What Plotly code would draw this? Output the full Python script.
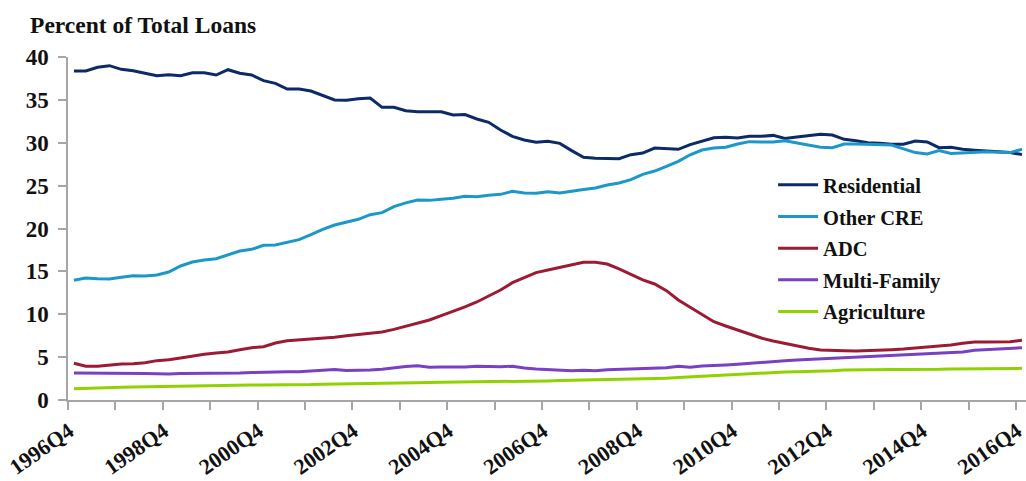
import plotly.graph_objects as go

# Quarterly categories 1996Q4 .. 2016Q4
quarters = [f"{1996 + (q + 3) // 4}Q{(q + 3) % 4 + 1}" for q in range(81)]
tick_labels = ["1996Q4", "1998Q4", "2000Q4", "2002Q4", "2004Q4", "2006Q4",
               "2008Q4", "2010Q4", "2012Q4", "2014Q4", "2016Q4"]

residential = [38.37, 38.37, 38.8, 38.99, 38.56, 38.4, 38.1, 37.82, 37.94, 37.82,
               38.17, 38.17, 37.9, 38.52, 38.1, 37.9, 37.24, 36.93, 36.27, 36.27,
               36.03, 35.53, 34.99, 34.95, 35.14, 35.22, 34.13, 34.13, 33.74, 33.62,
               33.62, 33.62, 33.24, 33.28, 32.77, 32.38, 31.49, 30.75, 30.33, 30.05,
               30.17, 29.93, 29.08, 28.3, 28.18, 28.14, 28.14, 28.61, 28.8, 29.38,
               29.27, 29.23, 29.78, 30.2, 30.59, 30.63, 30.55, 30.75, 30.75, 30.86,
               30.51, 30.67, 30.86, 30.98, 30.9, 30.4, 30.24, 30.01, 29.93, 29.82,
               29.82, 30.2, 30.09, 29.43, 29.47, 29.24, 29.12, 29.04, 28.92, 28.85,
               28.62]
other_cre = [13.96, 14.23, 14.15, 14.11, 14.31, 14.5, 14.46, 14.58, 14.93, 15.63,
             16.09, 16.33, 16.48, 16.91, 17.38, 17.57, 18.04, 18.08, 18.35, 18.7,
             19.28, 19.9, 20.41, 20.72, 21.07, 21.61, 21.85, 22.55, 22.99, 23.32,
             23.28, 23.4, 23.52, 23.75, 23.71, 23.87, 23.98, 24.33, 24.13, 24.1,
             24.29, 24.13, 24.37, 24.56, 24.72, 25.07, 25.3, 25.69, 26.31, 26.7,
             27.24, 27.83, 28.6, 29.15, 29.38, 29.47, 29.85, 30.13, 30.09, 30.09,
             30.24, 30.01, 29.78, 29.47, 29.43, 29.85, 29.85, 29.82, 29.74, 29.74,
             29.28, 28.85, 28.7, 29.09, 28.74, 28.82, 28.92, 28.96, 28.89, 28.85,
             29.24]
adc = [4.28, 3.93, 3.93, 4.08, 4.2, 4.24, 4.35, 4.59, 4.7, 4.9,
       5.13, 5.33, 5.48, 5.6, 5.87, 6.1, 6.22, 6.65, 6.92, 7.03,
       7.15, 7.19, 7.31, 7.5, 7.62, 7.81, 7.93, 8.24, 8.63, 9.02,
       9.33, 9.84, 10.3, 10.85, 11.43, 12.13, 12.83, 13.68, 14.27, 14.85,
       15.16, 15.47, 15.78, 16.05, 16.05, 15.86, 15.28, 14.66, 14.0, 13.53,
       12.75, 11.66, 10.81, 10.03, 9.13, 8.63, 8.16, 7.66, 7.23, 6.88,
       6.57, 6.3, 6.03, 5.83, 5.75, 5.75, 5.72, 5.75, 5.79, 5.87,
       5.95, 6.1, 6.18, 6.3, 6.41, 6.61, 6.76, 6.76, 6.8, 6.8,
       6.96]
multi_family = [3.15, 3.15, 3.15, 3.15, 3.12, 3.1, 3.08, 3.05, 3.03, 3.1,
                3.1, 3.1, 3.1, 3.12, 3.15, 3.2, 3.25, 3.28, 3.3, 3.3,
                3.4, 3.5, 3.55, 3.45, 3.45, 3.5, 3.58, 3.77, 3.9, 4.0,
                3.81, 3.85, 3.81, 3.85, 3.93, 3.89, 3.89, 3.93, 3.73, 3.62,
                3.54, 3.5, 3.42, 3.46, 3.42, 3.54, 3.58, 3.62, 3.65, 3.69,
                3.77, 3.93, 3.81, 3.97, 4.0, 4.08, 4.16, 4.28, 4.39, 4.49,
                4.59, 4.67, 4.74, 4.78, 4.82, 4.92, 5.02, 5.08, 5.13, 5.25,
                5.31, 5.37, 5.43, 5.48, 5.54, 5.6, 5.79, 5.87, 5.95, 6.02,
                6.1]
agriculture = [1.32, 1.38, 1.45, 1.48, 1.5, 1.52, 1.55, 1.58, 1.6, 1.62,
               1.65, 1.68, 1.7, 1.7, 1.72, 1.74, 1.75, 1.75, 1.76, 1.78,
               1.8, 1.85, 1.88, 1.92, 1.95, 1.97, 1.99, 2.0, 2.02, 2.04,
               2.05, 2.07, 2.08, 2.1, 2.12, 2.13, 2.15, 2.17, 2.18, 2.2,
               2.23, 2.27, 2.3, 2.32, 2.33, 2.35, 2.38, 2.42, 2.45, 2.5,
               2.55, 2.62, 2.7, 2.8, 2.88, 2.95, 3.03, 3.09, 3.15, 3.21,
               3.27, 3.3, 3.32, 3.34, 3.42, 3.5, 3.53, 3.56, 3.58, 3.57,
               3.56, 3.55, 3.54, 3.58, 3.62, 3.63, 3.64, 3.65, 3.67, 3.68,
               3.69]

series_names = ["Residential", "Other CRE", "ADC", "Multi-Family", "Agriculture"]
series_values = [residential, other_cre, adc, multi_family, agriculture]
series_colors = ["#0c2a66", "#1b98c8", "#9c1b33", "#7a40c4", "#8fd200"]

FONT = "Liberation Serif"
x_idx = list(range(len(quarters)))

fig = go.Figure()
for i, (name, vals, col) in enumerate(zip(series_names, series_values, series_colors)):
    fig.add_trace(go.Scatter(
        x=x_idx, y=vals, name=name, mode="lines",
        line=dict(color=col, width=3),
        legendgroup=f"g{i}",
        customdata=quarters,
        hovertemplate="%{customdata}: %{y:.1f}<extra>" + name + "</extra>",
    ))

fig.update_layout(
    width=1026, height=481,
    margin=dict(l=68, r=0, t=57, b=81),
    paper_bgcolor="white", plot_bgcolor="white",
    font=dict(family=FONT, color="#111111"),
    title=dict(text="Percent of Total Loans", x=0.0293, xanchor="left",
               xref="container", y=0.948, yref="container", yanchor="middle",
               font=dict(family=FONT, size=23.5, weight="bold", color="#111111")),
    showlegend=True,
    legend=dict(x=0.736, y=0.685, xanchor="left", yanchor="top",
                font=dict(family=FONT, size=20.5, weight="bold", color="#111111"),
                bgcolor="rgba(0,0,0,0)", tracegroupgap=2, itemwidth=40),
)

fig.update_xaxes(
    range=[-0.5, 80.34],
    automargin=False,
    tickmode="array",
    tickvals=[quarters.index(t) for t in tick_labels],
    ticktext=tick_labels,
    ticks="", tickangle=-35, ticklabeloverflow="allow",
    ticklabelstandoff=8, ticklabelshift=-5,
    tickfont=dict(family=FONT, size=22, weight="bold", color="#111111"),
    showline=True, linecolor="#a6a6a6", linewidth=1.5,
    showgrid=False, zeroline=False,
    minor=dict(tickmode="array",
               tickvals=[v - 0.5 for v in range(0, 81, 4)],
               ticks="outside", ticklen=8, tickcolor="#a6a6a6", tickwidth=1.5,
               showgrid=False),
)
fig.update_yaxes(
    range=[0, 40], automargin=False,
    tickmode="array", tickvals=[0, 5, 10, 15, 20, 25, 30, 35, 40],
    ticks="outside", ticklen=8, tickcolor="#a6a6a6", tickwidth=1.5,
    ticklabelstandoff=5,
    tickfont=dict(family=FONT, size=23, weight="bold", color="#111111"),
    showline=True, linecolor="#a6a6a6", linewidth=1.5,
    showgrid=False, zeroline=False,
)

fig.write_html("out.html",
               config={"displayModeBar": False},
               post_script="document.body.style.margin='0px';"
                           "document.body.style.overflow='hidden';")
